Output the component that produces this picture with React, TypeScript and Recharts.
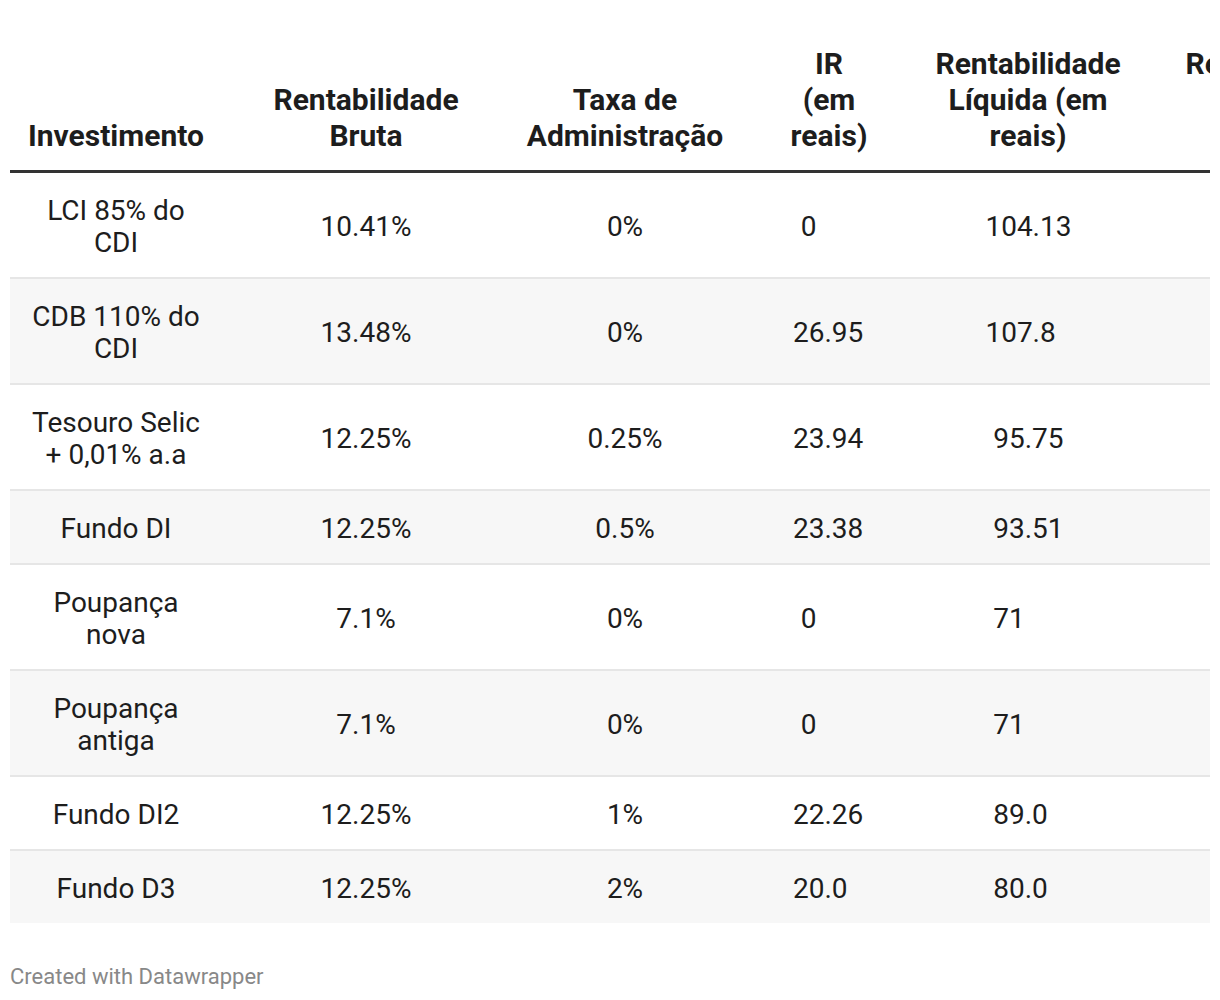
import React from 'react';
import { BarChart, Bar, XAxis, YAxis, Customized } from 'recharts';

// ---------- data ----------
// header lines laid out on a 3-line grid (empty string = blank line)
const headers: string[][] = [
  ['', '', 'Investimento'],
  ['', 'Rentabilidade', 'Bruta'],
  ['', 'Taxa de', 'Administração'],
  ['IR', '(em', 'reais)'],
  ['Rentabilidade', 'Líquida (em', 'reais)'],
  ['Rentabilidade', '', ''],
];

const investimentos: string[][] = [
  ['LCI 85% do', 'CDI'],
  ['CDB 110% do', 'CDI'],
  ['Tesouro Selic', '+ 0,01% a.a'],
  ['Fundo DI'],
  ['Poupança', 'nova'],
  ['Poupança', 'antiga'],
  ['Fundo DI2'],
  ['Fundo D3'],
];

const rentabilidadeBruta = [10.41, 13.48, 12.25, 12.25, 7.1, 7.1, 12.25, 12.25];
const taxaAdministracao = [0, 0, 0.25, 0.5, 0, 0, 1, 2];
const irEmReais = ['0', '26.95', '23.94', '23.38', '0', '0', '22.26', '20.0'];
const rentabilidadeLiquida = ['104.13', '107.8', '95.75', '93.51', '71', '71', '89.0', '80.0'];

const footerText = 'Created with Datawrapper';

// ---------- layout / style ----------
const FONT = 'Roboto, "Noto Sans", sans-serif';
const TEXT = '#1d1d1d';
const BODY_SIZE = 28;
const HEAD_SIZE = 30;
const LINE = 32;
const PAD = 20;
const BORDER = 2;
const DIGIT = (BODY_SIZE * 1150) / 2048;

const CHART_W = 1202;
const CHART_H = 992;
const TABLE_LEFT = 2;
const HEADER_RULE_Y = 162;
const HEADER_RULE_H = 3;
const TOP = HEADER_RULE_Y + HEADER_RULE_H;
const HEADER_BASELINE = 138;
const HEADER_LINE = 36;

const COL_CENTER = [106, 356, 615, 819, 1018, 1268];
const NUM_ANCHOR: Record<number, number> = { 3: 798.7, 4: 999 };

const nRows = investimentos.length;
const rowLines = investimentos.map((l) => Math.max(1, l.length));
const rowHeights = rowLines.map((n, i) => PAD * 2 + n * LINE + (i === nRows - 1 ? 0 : BORDER));
const total = rowHeights.reduce((a, b) => a + b, 0);

const chartData = [
  rowHeights.reduce((acc: any, h, i) => {
    acc['r' + i] = h;
    return acc;
  }, { cat: 'tabela' } as any),
];

function cellsFor(row: number): { lines: string[]; col: number; numeric?: boolean }[] {
  return [
    { lines: investimentos[row], col: 0 },
    { lines: [`${rentabilidadeBruta[row]}%`], col: 1 },
    { lines: [`${taxaAdministracao[row]}%`], col: 2 },
    { lines: [irEmReais[row]], col: 3, numeric: true },
    { lines: [rentabilidadeLiquida[row]], col: 4, numeric: true },
  ];
}

function RowShape(props: any) {
  const { x, y, width, height, row } = props;
  const top = Math.min(y, y + height);
  const h = Math.abs(height);
  const n = rowLines[row];
  const isLast = row === nRows - 1;
  const cells = cellsFor(row);
  return (
    <g>
      <rect x={x} y={top} width={width} height={h} fill={row % 2 ? '#f7f7f7' : '#ffffff'} />
      {!isLast && <rect x={x} y={top + h - BORDER} width={width} height={BORDER} fill="#e6e6e6" />}
      {cells.map((c, ci) =>
        c.lines.map((t, j) => {
          const base = top + PAD + ((n - c.lines.length) * LINE) / 2 + j * LINE + 27;
          if (c.numeric) {
            const intLen = t.split('.')[0].length;
            const sx = x + NUM_ANCHOR[c.col] - (intLen * DIGIT) / 2;
            return (
              <text key={ci + '-' + j} x={sx} y={base} textAnchor="start" fontFamily={FONT} fontSize={BODY_SIZE} fill={TEXT}>
                {t}
              </text>
            );
          }
          return (
            <text key={ci + '-' + j} x={x + COL_CENTER[c.col]} y={base} textAnchor="middle" fontFamily={FONT} fontSize={BODY_SIZE} fill={TEXT}>
              {t}
            </text>
          );
        })
      )}
    </g>
  );
}

function HeaderLayer() {
  return (
    <g>
      {headers.map((lines, ci) =>
        lines.map((t, j) =>
          t ? (
            <text
              key={ci + '-' + j}
              x={TABLE_LEFT + COL_CENTER[ci]}
              y={HEADER_BASELINE - (lines.length - 1 - j) * HEADER_LINE}
              textAnchor="middle"
              fontFamily={FONT}
              fontSize={HEAD_SIZE}
              fontWeight={700}
              fill={TEXT}
            >
              {t}
            </text>
          ) : null
        )
      )}
      <rect x={TABLE_LEFT} y={HEADER_RULE_Y} width={1200} height={HEADER_RULE_H} fill="#333333" />
      <text x={TABLE_LEFT} y={976} fontFamily={FONT} fontSize={22} fill="#888888">
        {footerText}
      </text>
    </g>
  );
}

export default function App() {
  return (
    <div style={{ width: CHART_W, height: CHART_H }}>
      <BarChart
        width={CHART_W}
        height={CHART_H}
        data={chartData}
        margin={{ top: TOP, right: 0, bottom: CHART_H - TOP - total, left: TABLE_LEFT }}
        barCategoryGap={0}
        barGap={0}
      >
        <XAxis dataKey="cat" type="category" hide />
        <YAxis type="number" domain={[0, total]} reversed hide />
        {rowHeights.map((_, i) => (
          <Bar
            key={i}
            dataKey={'r' + i}
            stackId="t"
            isAnimationActive={false}
            shape={(p: any) => <RowShape {...p} row={i} />}
          />
        ))}
        <Customized component={HeaderLayer} />
      </BarChart>
    </div>
  );
}
